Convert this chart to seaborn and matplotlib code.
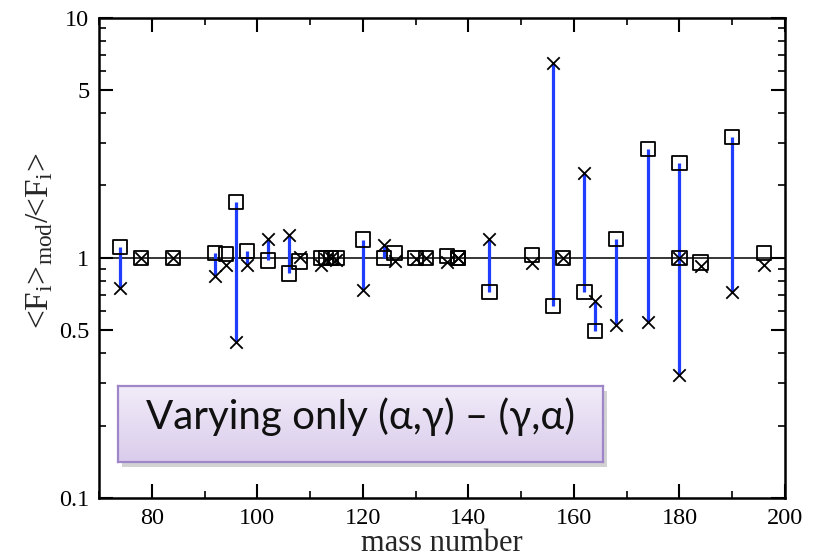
import numpy as np
import pandas as pd
import matplotlib
matplotlib.use("Agg")
import matplotlib.pyplot as plt
import seaborn as sns
from matplotlib.ticker import FixedLocator, FixedFormatter, MultipleLocator, NullFormatter
from matplotlib.patches import Rectangle

# p-nuclei mass numbers and the ratio <F_i>_mod/<F_i> for the two variations
mass = [74, 78, 84, 92, 94, 96, 98, 102, 106, 108, 112, 113, 114, 115, 120,
        124, 126, 130, 132, 136, 138, 138, 144, 152, 156, 158, 162, 164, 168,
        174, 180, 180, 184, 190, 196]
ratio_square = [1.11, 1.0, 1.0, 1.05, 1.04, 1.71, 1.07, 0.975, 0.86, 0.965,
                1.0, 1.0, 1.0, 1.0, 1.19, 1.0, 1.05, 1.0, 1.0, 1.02, 1.0, 1.0,
                0.72, 1.03, 0.63, 1.0, 0.72, 0.495, 1.20, 2.84, 2.48, 1.0,
                0.955, 3.18, 1.05]
ratio_cross = [0.745, 1.0, 1.0, 0.84, 0.93, 0.446, 0.93, 1.20, 1.24, 1.01,
               0.93, 0.99, 1.0, 0.98, 0.735, 1.13, 0.965, 0.985, 1.0, 0.96,
               1.0, 1.0, 1.20, 0.955, 6.46, 1.0, 2.25, 0.66, 0.524, 0.541,
               0.324, 1.0, 0.925, 0.717, 0.93]
connected = [True, False, False, True, False, True, True, True, True, False,
             False, False, False, False, True, True, False, False, False, False,
             False, False, True, False, True, False, True, True, True, True,
             True, False, False, True, False]

x_ticks = [80, 100, 120, 140, 160, 180, 200]
y_ticks = [0.1, 0.5, 1, 5, 10]
y_tick_labels = ["0.1", "0.5", "1", "5", "10"]
y_minor = [0.2, 0.3, 0.4, 0.6, 0.7, 0.8, 0.9, 2, 3, 4, 6, 7, 8, 9]

df = pd.DataFrame({"mass": mass, "square": ratio_square,
                   "cross": ratio_cross, "connected": connected})

SERIF = "Liberation Serif"
sns.set_style("ticks")
plt.rcParams["font.family"] = [SERIF, "DejaVu Serif"]
plt.rcParams["mathtext.fontset"] = "custom"
plt.rcParams["mathtext.rm"] = SERIF
plt.rcParams["mathtext.it"] = SERIF + ":italic"
plt.rcParams["mathtext.default"] = "rm"

W, H = 814, 558
fig = plt.figure(figsize=(W / 100, H / 100), dpi=100)
ax = fig.add_axes([99 / W, 1 - 498 / H, (785 - 99) / W, (498 - 17.5) / H])

ax.axhline(1, color="black", lw=1.1, zorder=2)

seg = df[df["connected"]]
ax.vlines(seg["mass"], seg["square"], seg["cross"], color="#1f3dff",
          lw=2.3, zorder=3)

sns.scatterplot(data=df, x="mass", y="square", marker="s", s=105,
                linewidth=1.3, ax=ax, zorder=4, legend=False)
squares = ax.collections[-1]
squares.set_facecolor("none")
squares.set_edgecolor("black")

sns.scatterplot(data=df, x="mass", y="cross", marker="x", s=80,
                color="black", linewidth=1.3, ax=ax, zorder=5, legend=False)

ax.set_yscale("log")
ax.set_xlim(70, 200)
ax.set_ylim(0.1, 10)
ax.xaxis.set_major_locator(FixedLocator(x_ticks))
ax.xaxis.set_major_formatter(FixedFormatter([str(t) for t in x_ticks]))
ax.xaxis.set_minor_locator(MultipleLocator(10))
ax.yaxis.set_major_locator(FixedLocator(y_ticks))
ax.yaxis.set_major_formatter(FixedFormatter(y_tick_labels))
ax.yaxis.set_minor_locator(FixedLocator(y_minor))
ax.yaxis.set_minor_formatter(NullFormatter())

ax.tick_params(which="both", direction="in", top=True, right=True,
               labelsize=17.5, colors="black")
ax.tick_params(which="major", length=10, width=1.5, pad=7)
ax.tick_params(which="minor", length=5, width=1.2)
for lbl in ax.get_xticklabels() + ax.get_yticklabels():
    lbl.set_fontfamily(SERIF)
for sp in ax.spines.values():
    sp.set_linewidth(1.8)
    sp.set_color("black")

ax.set_xlabel("mass number", fontsize=22, labelpad=0, family=SERIF)
ax.set_ylabel(r"<F$_{i}$>$_{mod}$/<F$_{i}$>", fontsize=24, family=SERIF)
ax.yaxis.set_label_coords(-0.064, 0.535)

# Caption box with a soft shadow and lavender gradient
bx0, by0, bx1, by1 = 118, 386, 603, 462
shadow = Rectangle(((bx0 + 4) / W, 1 - (by1 + 5) / H), (bx1 - bx0) / W,
                   (by1 - by0) / H, transform=fig.transFigure,
                   facecolor="#7f7f7f", alpha=0.35, edgecolor="none", zorder=8)
fig.add_artist(shadow)
box = fig.add_axes([bx0 / W, 1 - by1 / H, (bx1 - bx0) / W, (by1 - by0) / H])
box.set_zorder(10)
grad = np.linspace(0, 1, 100).reshape(-1, 1)
top = np.array([0.945, 0.925, 0.975])
bottom = np.array([0.855, 0.800, 0.925])
img = top + (bottom - top) * grad[..., None]
box.imshow(img, aspect="auto", extent=[0, 1, 0, 1], origin="upper")
box.set_xticks([])
box.set_yticks([])
for sp in box.spines.values():
    sp.set_color("#9f86c8")
    sp.set_linewidth(1.6)
box.text(0.5, 0.44, "Varying only (α,γ) – (γ,α)", ha="center", va="baseline",
         fontsize=29, family=["Lato", "Open Sans", "DejaVu Sans"],
         color="#111111", transform=box.transAxes)

fig.savefig("out.png", dpi=100)
